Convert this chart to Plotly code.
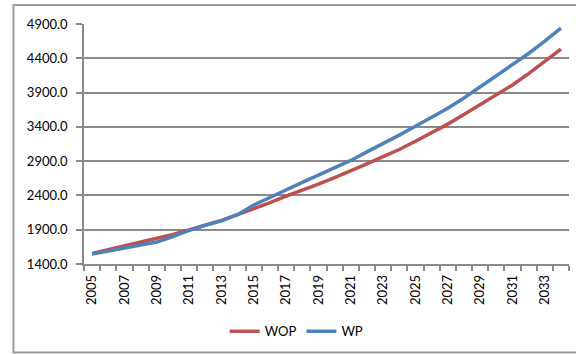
import plotly.graph_objects as go

years = list(range(2005, 2035))
wop = [1555, 1610, 1660, 1710, 1765, 1830, 1895, 1960, 2035, 2120,
       2205, 2295, 2390, 2475, 2565, 2660, 2755, 2860, 2965, 3070,
       3190, 3310, 3440, 3580, 3720, 3865, 4010, 4175, 4350, 4535]
wp = [1545, 1590, 1635, 1675, 1720, 1800, 1890, 1965, 2030, 2120,
      2260, 2370, 2485, 2590, 2695, 2805, 2910, 3035, 3155, 3280,
      3410, 3540, 3670, 3820, 3980, 4140, 4300, 4470, 4650, 4840]
y_ticks = [1400, 1900, 2400, 2900, 3400, 3900, 4400, 4900]
x_labels = list(range(2005, 2034, 2))

FONT = "Lato, 'Open Sans', sans-serif"
GRID = "#8a8a8a"

fig = go.Figure()
fig.add_trace(go.Scatter(x=years, y=wop, mode="lines", name="WOP",
                         line=dict(color="#c0504d", width=3.5)))
fig.add_trace(go.Scatter(x=years, y=wp, mode="lines", name="WP",
                         line=dict(color="#4f81bd", width=3.5)))

fig.update_layout(
    width=576, height=354,
    margin=dict(l=84, r=7, t=24, b=90),
    paper_bgcolor="white", plot_bgcolor="white",
    font=dict(family=FONT, size=13, color="black"),
    showlegend=True,
    legend=dict(orientation="h", x=0.29, xanchor="left", y=-0.28, yanchor="middle",
                font=dict(size=13), itemwidth=30, tracegroupgap=0),
    shapes=[dict(type="rect", xref="paper", yref="paper",
                 x0=-0.1454, x1=1.2, y0=-0.369, y1=1.079,
                 line=dict(color="#9a9a9a", width=2), layer="below")],
)
fig.update_xaxes(
    range=[2004.5, 2034.5], tickvals=x_labels, ticktext=[str(v) for v in x_labels],
    tickangle=-90, ticks="", showgrid=False, zeroline=False,
    showline=True, linecolor=GRID, linewidth=1.5,
    minor=dict(tickvals=[y - 0.5 for y in years] + [2034.5], ticks="outside",
               ticklen=5, tickcolor=GRID, tickwidth=1.5, showgrid=False),
    ticklabelstandoff=4,
)
fig.update_yaxes(
    range=[1400, 4900], tickvals=y_ticks, ticktext=[f"{v:.1f}" for v in y_ticks],
    ticks="outside", ticklen=6, tickcolor=GRID, tickwidth=1.5,
    showgrid=True, gridcolor=GRID, gridwidth=1.5, zeroline=False,
    showline=True, linecolor=GRID, linewidth=1.5,
    ticklabelstandoff=6,
)

fig.write_html("out.html")
